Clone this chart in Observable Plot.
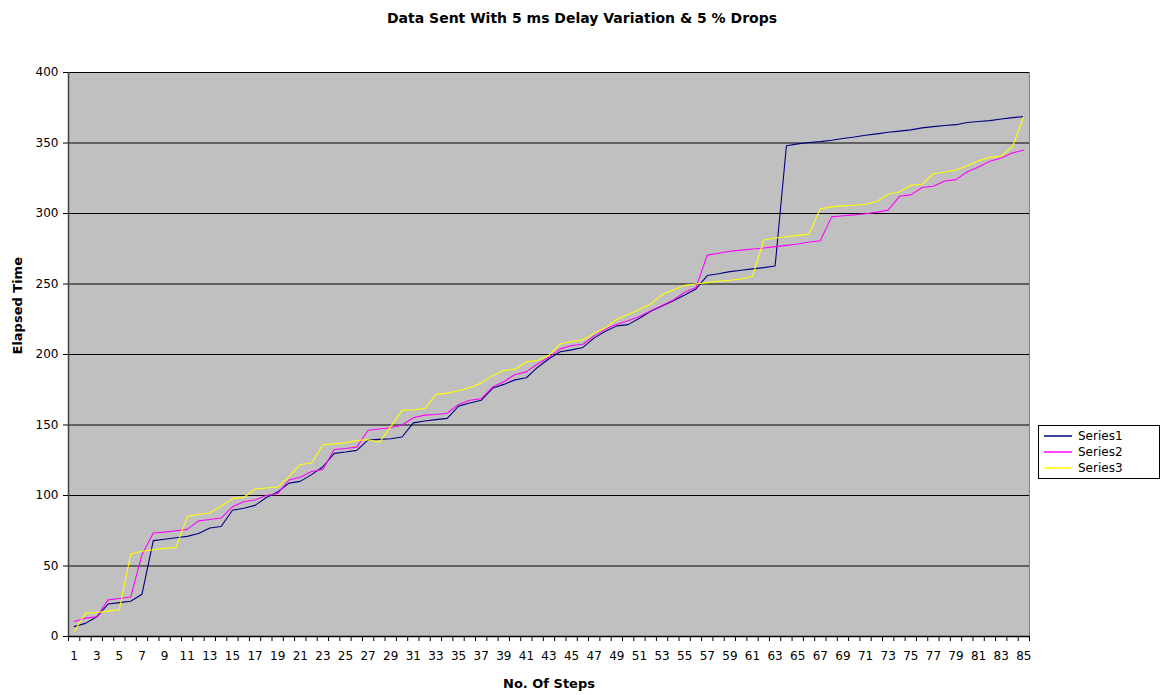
<!DOCTYPE html>
<html>
<head>
<meta charset="utf-8">
<script src="https://cdn.jsdelivr.net/npm/d3@7"></script>
<script src="https://cdn.jsdelivr.net/npm/@observablehq/plot@0.6"></script>
<style>
  html, body { margin: 0; padding: 0; background: #fff; }
  #wrap { position: relative; width: 1164px; height: 695px; font-family: "DejaVu Sans", "Liberation Sans", Arial, sans-serif; }
  #title { height: 40px; line-height: 37px; text-align: center; font-weight: bold; font-size: 14px; color: #000; }
  #legend { position: absolute; left: 1038px; top: 425px; width: 120px; border: 1px solid #000; background: #fff; padding: 2px 0; font-size: 12px; }
  #legend .row { display: flex; align-items: center; height: 16px; }
  #legend svg { margin: 0 6px 0 5px; }
</style>
</head>
<body>
<div id="wrap">
  <div id="title">Data Sent With 5 ms Delay Variation &amp; 5 % Drops</div>
  <div id="chart"></div>
  <div id="legend"></div>
</div>
<script>
const steps = d3.range(1, 86);
const seriesNames = ["Series1", "Series2", "Series3"];
const seriesColors = ["#000080", "#FF00FF", "#FFFF00"];
const yTicks = [0, 50, 100, 150, 200, 250, 300, 350, 400];

const series1 = [7, 9.3, 14, 23, 24, 25, 30, 68, 69, 70,
  71, 73, 77, 78, 89.5, 91, 93, 98.6, 102.5, 108.8,
  110, 114.8, 120.4, 129.9, 130.8, 132, 139.4, 139.8, 140.3, 141.5,
  151.5, 152.8, 153.8, 154.7, 163.4, 165.6, 167.5, 176, 178.8, 182,
  183.5, 191, 197, 202, 203.3, 205, 211.8, 216.5, 220.3, 221.2,
  225.7, 230.7, 234.4, 238.2, 242.2, 246.5, 256, 257.3, 258.8, 259.8,
  260.7, 261.6, 262.8, 348, 349.4, 350.4, 351, 352, 353.2, 354.2,
  355.5, 356.5, 357.6, 358.4, 359.3, 360.7, 361.6, 362.4, 363, 364.5,
  365.2, 365.9, 367, 368, 368.7];

const series2 = [10.7, 13, 14, 26, 27, 28, 58, 73.4, 74, 75,
  76, 82, 83, 84, 92, 95.6, 96.8, 100, 101.4, 111,
  113, 117, 118.5, 132.6, 133.3, 134.3, 146.3, 147.2, 148, 150,
  155.2, 157, 157.5, 158.3, 164.6, 167.5, 168.6, 176.9, 180.7, 185.8,
  187.7, 193.4, 198, 204, 206.4, 207.3, 213.2, 218, 221.5, 224,
  226.9, 231, 234.7, 238.7, 244.1, 247.6, 270.5, 271.8, 273.2, 274,
  274.8, 275.5, 276.5, 277.4, 278.4, 279.8, 280.7, 297.6, 298.4, 299,
  299.8, 301, 302.4, 312.2, 313.2, 318.4, 319.3, 323, 324, 329.6,
  333, 337, 339.3, 343, 345];

const series3 = [3.6, 16.4, 17, 18, 19, 58.5, 60.5, 61.5, 62.5, 63,
  85, 86.7, 87.6, 92.4, 97.8, 98.6, 104.6, 105.3, 106, 113.4,
  122, 123, 136, 136.6, 137.3, 139, 139.6, 137.7, 148.8, 160.4,
  160.8, 161.6, 171.7, 172.6, 174.3, 176.4, 179.7, 185, 188.7, 189.6,
  194.8, 195.8, 199.5, 207.5, 209.2, 210.4, 215, 218.9, 225, 228.3,
  232, 235.8, 242.5, 245.8, 249, 250, 251, 252, 252.7, 253.6,
  255.5, 281.2, 282.6, 283.5, 284.5, 285.4, 303.3, 304.7, 305.4, 305.9,
  306.6, 308.5, 313.6, 315.3, 320, 320.7, 328.2, 329.4, 330.8, 333.9,
  337.4, 339.8, 340.7, 347.5, 369];

const allSeries = [series1, series2, series3];
const data = [];
allSeries.forEach((vals, k) => {
  vals.forEach((v, i) => data.push({step: steps[i], value: v, series: seriesNames[k]}));
});

const xMin = d3.min(steps) - 0.5;
const xMax = d3.max(steps) + 0.5;
const boundaries = d3.range(xMin, xMax + 0.01, 1);
const oddSteps = steps.filter(s => s % 2 === 1);

const chart = Plot.plot({
  width: 1164,
  height: 655,
  marginTop: 32,
  marginBottom: 59,
  marginLeft: 68,
  marginRight: 135,
  style: {fontFamily: '"DejaVu Sans", "Liberation Sans", Arial, sans-serif', fontSize: "12px", color: "#000", background: "#fff"},
  x: {type: "linear", domain: [xMin, xMax]},
  y: {domain: [0, 400]},
  color: {domain: seriesNames, range: seriesColors},
  marks: [
    Plot.frame({fill: "#C0C0C0", stroke: "#808080"}),
    Plot.gridY(yTicks, {stroke: "#000", strokeOpacity: 1, strokeWidth: 1}),
    Plot.ruleX([xMin], {stroke: "#404040", strokeWidth: 1.5}),
    Plot.ruleY([0], {stroke: "#000", strokeWidth: 1.5}),
    Plot.line(data, {x: "step", y: "value", z: "series", stroke: "series", strokeWidth: 1.1}),
    Plot.axisY({ticks: yTicks, tickSize: 5, tickPadding: 5, label: null, fontSize: 12}),
    Plot.axisX({ticks: boundaries, tickSize: 5, tickFormat: () => "", label: null}),
    Plot.axisX({ticks: oddSteps, tickSize: 0, tickPadding: 15, tickFormat: d => String(d), label: null, fontSize: 12}),
    Plot.text(["Elapsed Time"], {frameAnchor: "left", rotate: -90, dx: -51, fontWeight: "bold", fontSize: 13}),
    Plot.text(["No. Of Steps"], {frameAnchor: "bottom", dy: 51, fontWeight: "bold", fontSize: 13})
  ]
});
document.getElementById("chart").appendChild(chart);

const legend = document.getElementById("legend");
seriesNames.forEach((name, k) => {
  const row = document.createElement("div");
  row.className = "row";
  row.innerHTML = `<svg width="28" height="10"><line x1="0" y1="5" x2="28" y2="5" stroke="${seriesColors[k]}" stroke-width="1.5"/></svg><span>${name}</span>`;
  legend.appendChild(row);
});
</script>
</body>
</html>
